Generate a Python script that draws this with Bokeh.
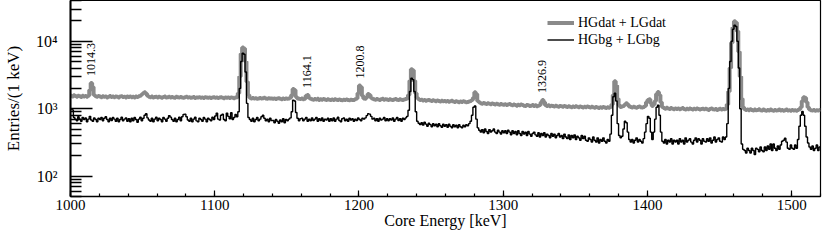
import numpy as np
from bokeh.plotting import figure
from bokeh.models import (Range1d, FixedTicker, SingleIntervalTicker, CustomJSTickFormatter,
                          Legend, LegendItem, ColumnDataSource)
from bokeh.core.properties import value
from bokeh.embed import file_html
from bokeh.resources import INLINE

# ---------------- data (1 keV bins, 1000-1519 keV) ----------------
bin_start = 1000
bin_stop = 1520

# HGdat + LGdat (grey)
hg_dat = [
    1560,1520,1580,1540,1500,1550,1530,1490,1560,1520,1540,1500,1560,1900,2400,2100,1600,1530,1500,1540,
    1510,1480,1530,1500,1520,1470,1500,1540,1490,1510,1480,1520,1500,1470,1510,1530,1490,1500,1460,1510,
    1490,1520,1480,1500,1470,1510,1490,1530,1560,1620,1700,1750,1680,1560,1500,1480,1510,1470,1490,1500,
    1470,1500,1480,1450,1490,1510,1470,1480,1500,1460,1490,1470,1450,1500,1480,1460,1490,1470,1450,1480,
    1500,1460,1480,1450,1470,1490,1440,1470,1460,1480,1450,1470,1440,1480,1460,1450,1470,1440,1460,1480,
    1450,1470,1440,1460,1480,1450,1430,1470,1450,1460,1440,1470,1450,1430,1460,1480,1700,3000,6500,8100,
    7800,5000,2500,1600,1450,1420,1440,1410,1430,1400,1420,1440,1410,1430,1450,1420,1400,1430,1410,1420,
    1400,1420,1390,1410,1430,1400,1380,1410,1390,1420,1400,1410,1450,1600,1950,1900,1500,1420,1400,1390,
    1410,1380,1400,1550,1600,1450,1400,1380,1360,1390,1370,1400,1350,1380,1360,1390,1370,1350,1380,1360,
    1340,1370,1350,1380,1360,1340,1370,1350,1330,1360,1340,1370,1350,1330,1360,1340,1350,1380,1420,1700,
    2200,2100,1550,1420,1400,1480,1650,1600,1450,1400,1380,1360,1390,1370,1350,1380,1400,1360,1380,1370,
    1350,1380,1360,1340,1370,1390,1360,1350,1380,1360,1340,1370,1390,1420,1600,2600,3850,3700,2600,1700,
    1450,1380,1340,1360,1320,1340,1310,1330,1350,1320,1300,1330,1310,1290,1320,1300,1280,1310,1290,1300,
    1280,1300,1270,1290,1310,1280,1260,1290,1270,1250,1280,1260,1290,1270,1250,1260,1280,1300,1350,1450,
    1750,1650,1300,1250,1200,1180,1210,1190,1170,1200,1180,1160,1190,1170,1150,1180,1160,1140,1170,1150,
    1140,1160,1130,1150,1170,1140,1120,1150,1130,1110,1140,1120,1150,1130,1110,1100,1130,1120,1100,1110,
    1130,1100,1120,1090,1110,1130,1250,1340,1250,1120,1100,1120,1090,1110,1100,1080,1110,1090,1070,1100,
    1090,1070,1100,1080,1060,1090,1070,1050,1080,1060,1090,1070,1050,1080,1060,1040,1070,1050,1080,1060,
    1040,1070,1050,1030,1060,1040,1020,1050,1030,1060,1040,1020,1050,1030,1060,1150,1600,2550,2200,1400,
    1120,1060,1080,1100,1150,1200,1150,1080,1060,1040,1070,1050,1030,1060,1080,1050,1040,1060,1100,1250,
    1350,1380,1200,1100,1150,1300,1650,1770,1600,1250,1060,1020,1000,1030,1010,990,1020,1000,980,1010,
    990,1010,980,1000,1020,990,970,1000,980,1010,990,970,1000,980,1010,990,970,990,1000,980,
    1000,980,960,990,1010,980,970,990,960,980,1000,970,990,980,1000,1150,1800,4000,9500,16000,
    19800,19000,14000,7000,3000,1400,1050,980,960,970,950,980,960,940,970,950,960,980,950,940,
    970,950,930,960,940,970,950,930,960,940,950,970,940,960,930,950,970,940,950,930,
    960,940,950,930,960,980,1050,1300,1480,1450,1250,1050,970,950,940,960,930,950,940,960,
]

# HGbg + LGbg (black)
hg_bg = [
    1000,960,740,700,660,760,700,650,740,690,730,640,700,770,680,650,730,690,640,720,
    690,740,660,720,760,690,640,720,670,740,700,650,720,640,690,750,660,700,730,650,
    710,640,720,660,740,690,630,700,750,660,720,800,840,730,680,650,720,640,700,750,
    660,720,690,640,740,700,650,720,790,750,690,650,720,640,690,750,660,760,820,830,
    760,680,650,720,640,700,750,660,640,720,690,650,740,700,640,720,690,660,750,690,
    780,860,700,680,800,830,690,660,860,770,710,870,690,740,820,760,900,2000,5000,6650,
    6400,3500,1200,740,690,650,720,640,690,740,660,700,760,800,720,660,700,640,720,670,
    670,620,690,650,610,680,640,710,620,690,660,700,730,900,1340,1300,880,720,660,710,
    720,660,700,740,650,700,660,730,670,700,740,650,710,670,730,650,700,680,720,650,
    710,660,730,650,700,750,670,640,710,730,660,700,650,720,680,710,650,700,670,730,
    690,660,720,700,730,790,840,830,770,700,720,660,710,650,720,680,700,740,660,710,
    660,710,680,730,650,700,740,670,710,650,720,690,730,770,950,1800,2830,2700,1800,900,
    650,610,580,620,570,630,590,550,610,580,540,600,560,590,540,600,560,530,590,550,
    580,530,590,550,520,580,540,570,520,580,540,520,570,540,580,560,600,650,800,1050,
    1100,700,520,480,450,490,440,500,460,430,490,450,470,500,450,430,480,450,420,470,
    440,470,430,480,450,410,470,430,460,410,470,430,400,460,420,450,400,460,420,390,
    430,450,410,390,440,380,430,400,440,380,420,400,370,430,390,420,370,400,430,380,
    400,360,420,380,360,410,350,400,370,410,350,390,370,340,400,360,390,340,330,370,
    350,320,380,340,320,370,310,350,330,370,330,310,350,330,420,800,1500,1700,1300,600,
    400,370,390,500,650,620,450,350,320,350,310,340,370,320,350,330,310,360,450,600,
    770,720,450,350,450,700,1050,1130,800,450,330,310,350,300,340,320,360,300,340,320,
    340,300,360,320,340,300,370,320,340,360,320,300,340,370,320,360,340,300,360,330,
    320,360,330,370,310,340,380,320,350,370,330,320,380,350,380,600,2000,5000,10000,15000,
    17200,16500,10000,4000,1000,300,250,240,220,260,240,220,260,240,210,260,250,230,270,240,
    230,270,240,280,250,300,240,300,260,240,280,250,290,330,340,365,320,260,250,290,
    260,250,290,260,350,550,800,910,800,550,380,310,270,250,280,240,260,290,240,270,
]

peak_labels = ["1014.3", "1164.1", "1200.8", "1326.9"]
y_decades = [100, 1000, 10000]
x_tick_step = 100

series_names = ["HGdat + LGdat", "HGbg + LGbg"]
x_title = "Core Energy [keV]"
y_title = "Entries/(1 keV)"

# ---------------- figure ----------------
FONT = "Liberation Serif"

edges = np.arange(bin_start, bin_stop + 1)

p = figure(width=822, height=233, output_backend="svg", toolbar_location=None,
           y_axis_type="log",
           x_range=Range1d(bin_start, bin_stop), y_range=Range1d(50, 40100),
           min_border_left=63, min_border_right=2, min_border_top=0, min_border_bottom=37)
p.grid.visible = False
p.outline_line_color = "black"
p.outline_line_width = 1.2
p.background_fill_color = "white"
p.border_fill_color = "white"

src_dat = ColumnDataSource(dict(x=edges, y=list(hg_dat) + [hg_dat[-1]]))
src_bg = ColumnDataSource(dict(x=edges, y=list(hg_bg) + [hg_bg[-1]]))

r_dat = p.step("x", "y", source=src_dat, mode="after", line_color="#8a8a8a", line_width=4)
r_bg = p.step("x", "y", source=src_bg, mode="after", line_color="black", line_width=1.4)

# peak annotations
lx, ly = [], []
for lab in peak_labels:
    e = float(lab)
    i = int(round(e)) - bin_start
    lx.append(e)
    ly.append(max(hg_dat[i - 1:i + 2]))
p.text(x=lx, y=ly, text=peak_labels, angle=np.pi / 2, text_align="left", text_baseline="middle",
       y_offset=-7, text_font=value(FONT), text_font_size="12px", text_color="black")

# axes
xa = p.xaxis[0]
xa.ticker = SingleIntervalTicker(interval=x_tick_step, num_minor_ticks=5)
xa.axis_label = x_title
xa.axis_label_text_font = FONT
xa.axis_label_text_font_style = "normal"
xa.axis_label_text_font_size = "16px"
xa.axis_label_text_color = "black"
xa.axis_label_standoff = -1
xa.major_label_text_font = FONT
xa.major_label_text_font_size = "15px"
xa.major_label_text_color = "black"
xa.major_label_standoff = 3
xa.major_tick_in = 6
xa.major_tick_out = 0
xa.minor_tick_in = 3
xa.minor_tick_out = 0
xa.axis_line_width = 1.5
xa.major_tick_line_width = 1.2
xa.minor_tick_line_width = 1.2

minor = [m * 10 ** k for k in (1, 2, 3, 4) for m in range(2, 10)]
minor = [v for v in minor if 50 <= v <= 40100 and v not in y_decades]
ya = p.yaxis[0]
ya.ticker = FixedTicker(ticks=y_decades, minor_ticks=minor)
ya.formatter = CustomJSTickFormatter(code="""
const sup = ['\u2070','\u00b9','\u00b2','\u00b3','\u2074','\u2075','\u2076','\u2077','\u2078','\u2079'];
const e = Math.round(Math.log10(tick));
return '10' + String(e).split('').map(d => sup[+d]).join('');
""")
ya.axis_label = y_title
ya.axis_label_text_font = FONT
ya.axis_label_text_font_style = "normal"
ya.axis_label_text_font_size = "17px"
ya.axis_label_text_color = "black"
ya.axis_label_standoff = 10
ya.major_label_text_font = FONT
ya.major_label_text_font_size = "16px"
ya.major_label_text_color = "black"
ya.major_label_standoff = 13
ya.major_tick_in = 22
ya.major_tick_out = 0
ya.minor_tick_in = 11
ya.minor_tick_out = 0
ya.axis_line_width = 2
ya.major_tick_line_width = 1.5
ya.minor_tick_line_width = 1.5

legend = Legend(items=[LegendItem(label=series_names[0], renderers=[r_dat]),
                       LegendItem(label=series_names[1], renderers=[r_bg])],
                location=(477, 148))
legend.label_text_font = FONT
legend.label_text_font_size = "14px"
legend.label_text_color = "black"
legend.border_line_color = None
legend.background_fill_alpha = 0
legend.glyph_width = 27
legend.glyph_height = 17
legend.label_height = 17
legend.label_standoff = 4
legend.spacing = 0
legend.padding = 2
legend.margin = 0
p.add_layout(legend, "center")

open("out.html", "w").write(file_html(p, INLINE))
